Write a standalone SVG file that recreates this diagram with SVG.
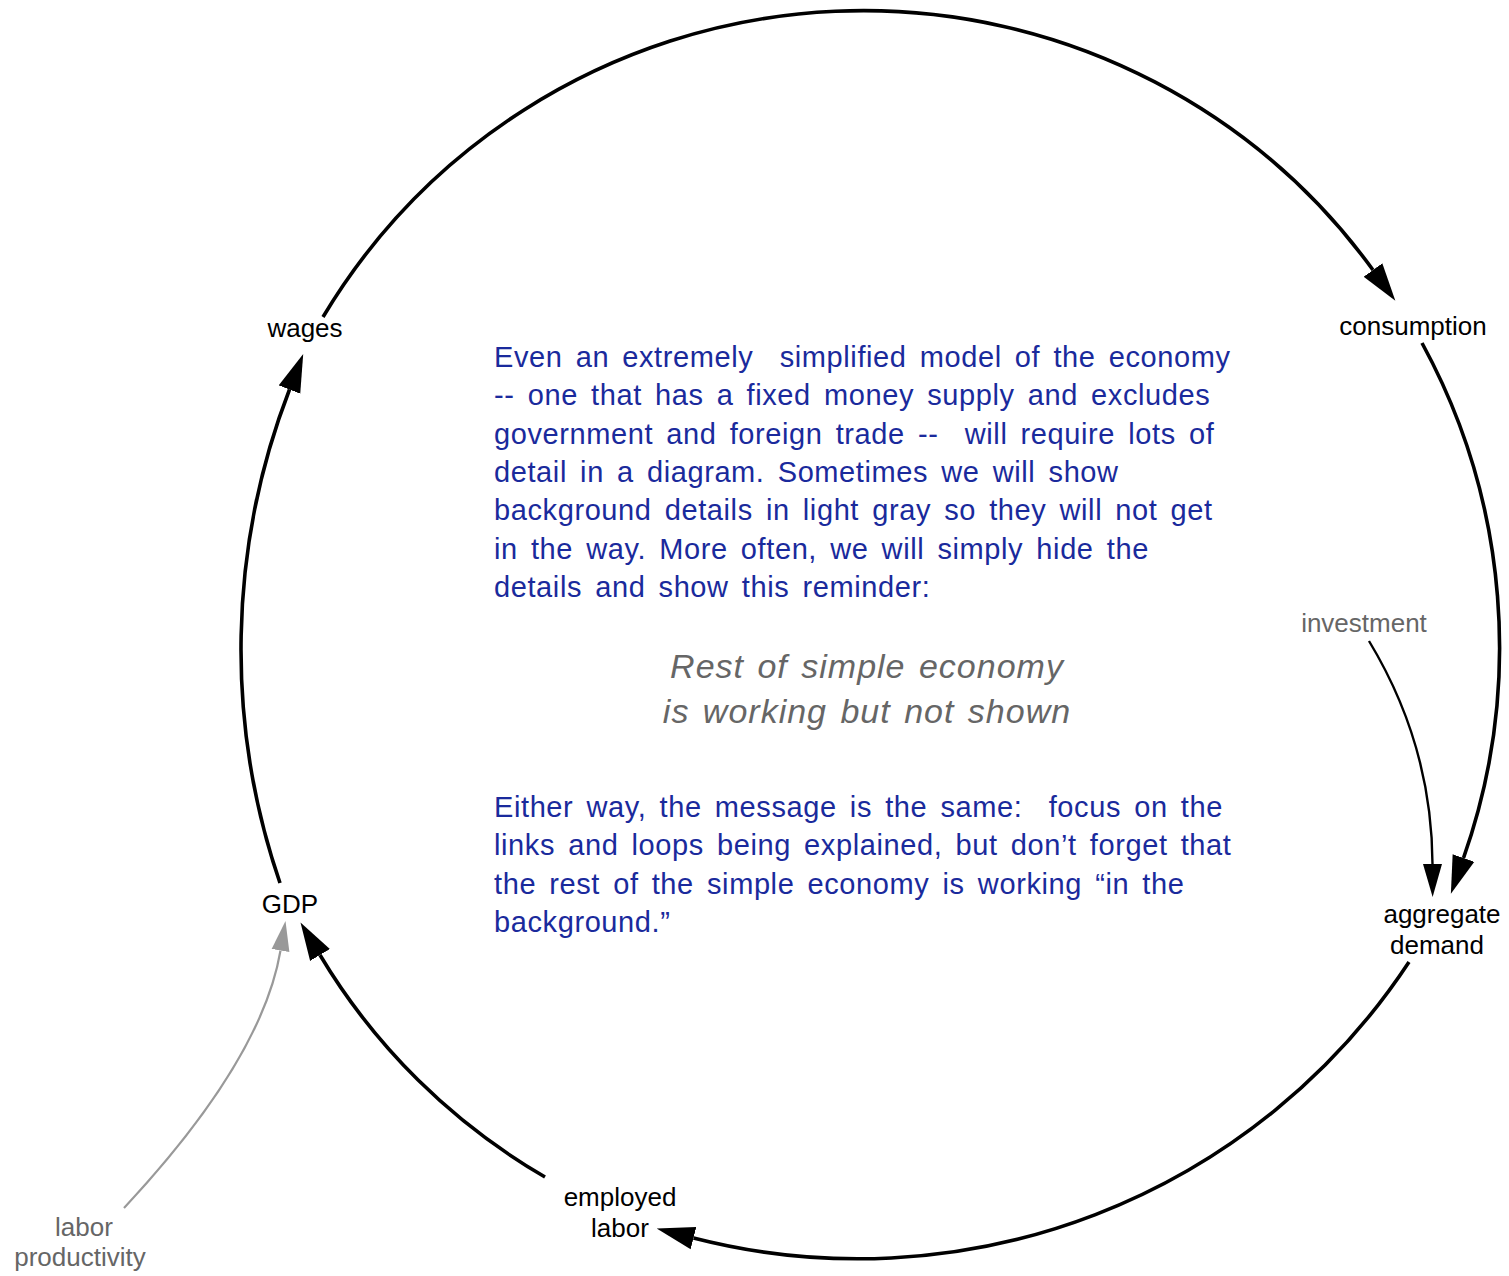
<svg xmlns="http://www.w3.org/2000/svg" width="1509" height="1276" viewBox="0 0 1509 1276">
  <style>
    .label { font-family: "Liberation Sans", Arial, sans-serif; font-size: 26px; fill: #000; text-anchor: middle; }
    .aux { fill: #666; }
    .note { font-family: "Liberation Sans", Arial, sans-serif; font-size: 29px; fill: #1a2a9c; letter-spacing: 0.6px; word-spacing: 4.5px; white-space: pre; }
    .hidden-note { font-family: "Liberation Sans", Arial, sans-serif; font-size: 34px; font-style: italic; fill: #666; text-anchor: middle; letter-spacing: 1px; word-spacing: 3px; }
    .link { fill: none; stroke: #000; stroke-width: 3.6; }
    .link-thin { fill: none; stroke: #000; stroke-width: 2.4; }
    .link-gray { fill: none; stroke: #999; stroke-width: 2.2; }
  </style>
  <defs>
    <marker id="head" markerUnits="userSpaceOnUse" viewBox="0 0 40 24" markerWidth="40" markerHeight="24" refX="0" refY="12" orient="auto">
      <path d="M0,0.5 L38,12 L0,23.5 Z" fill="#000"/>
    </marker>
    <marker id="head-thin" markerUnits="userSpaceOnUse" viewBox="0 0 34 20" markerWidth="34" markerHeight="20" refX="0" refY="10" orient="auto">
      <path d="M0,0.5 L33,10 L0,19.5 Z" fill="#000"/>
    </marker>
    <marker id="head-gray" markerUnits="userSpaceOnUse" viewBox="0 0 32 20" markerWidth="32" markerHeight="20" refX="0" refY="10" orient="auto">
      <path d="M0,1 L30,10 L0,19 Z" fill="#999"/>
    </marker>
  </defs>

  <!-- causal links -->
  <g id="connectors">
    <path id="wages-consumption" class="link" d="M323,317 A630,630 0 0 1 1373,270" marker-end="url(#head)"/>
    <path id="consumption-demand" class="link" d="M1422,343 A635,635 0 0 1 1463.5,858" marker-end="url(#head)"/>
    <path id="demand-labor" class="link" d="M1409,962 A660,660 0 0 1 693.5,1238" marker-end="url(#head)"/>
    <path id="labor-gdp" class="link" d="M545,1177 A630,630 0 0 1 320,955" marker-end="url(#head)"/>
    <path id="gdp-wages" class="link" d="M280,883 A720,720 0 0 1 289.5,389.5" marker-end="url(#head)"/>
    <path id="investment-demand" class="link-thin" d="M1369,641 Q1432,745 1432.5,864" marker-end="url(#head-thin)"/>
    <path id="productivity-gdp" class="link-gray" d="M124,1208 Q262,1060 280.5,950.5" marker-end="url(#head-gray)"/>
  </g>

  <!-- variables -->
  <g id="wages"><text class="label" x="305" y="337">wages</text></g>
  <g id="consumption"><text class="label" x="1413" y="335">consumption</text></g>
  <g id="aggregate-demand">
    <text class="label" x="1442" y="923">aggregate</text>
    <text class="label" x="1437" y="954">demand</text>
  </g>
  <g id="employed-labor">
    <text class="label" x="620" y="1206">employed</text>
    <text class="label" x="620" y="1237">labor</text>
  </g>
  <g id="gdp"><text class="label" x="290" y="913">GDP</text></g>
  <g id="investment"><text class="label aux" x="1364" y="632">investment</text></g>
  <g id="labor-productivity">
    <text class="label aux" x="84" y="1236">labor</text>
    <text class="label aux" x="80" y="1266">productivity</text>
  </g>

  <!-- explanatory note -->
  <g id="note">
    <text class="note" x="494" y="367">Even an extremely  simplified model of the economy</text>
    <text class="note" x="494" y="405.3">-- one that has a fixed money supply and excludes</text>
    <text class="note" x="494" y="443.6">government and foreign trade --  will require lots of</text>
    <text class="note" x="494" y="482">detail in a diagram. Sometimes we will show</text>
    <text class="note" x="494" y="520.3">background details in light gray so they will not get</text>
    <text class="note" x="494" y="558.6">in the way. More often, we will simply hide the</text>
    <text class="note" x="494" y="597">details and show this reminder:</text>
  </g>
  <g id="reminder">
    <text class="hidden-note" x="867" y="678">Rest of simple economy</text>
    <text class="hidden-note" x="867" y="723">is working but not shown</text>
  </g>
  <g id="note-2">
    <text class="note" x="494" y="817">Either way, the message is the same:  focus on the</text>
    <text class="note" x="494" y="855.3">links and loops being explained, but don’t forget that</text>
    <text class="note" x="494" y="893.6">the rest of the simple economy is working “in the</text>
    <text class="note" x="494" y="932">background.”</text>
  </g>
</svg>
